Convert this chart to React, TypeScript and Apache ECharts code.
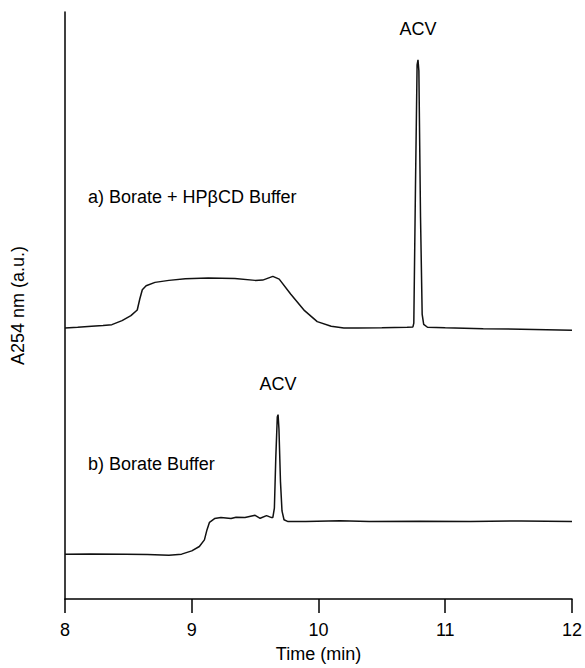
import React, { useEffect, useRef } from "react";
import * as echarts from "echarts";

// Time (min) tick values
const xTicks = [8, 9, 10, 11, 12];

// Trace a) Borate + HPβCD Buffer: time (min)
const timeA = [
  8.0, 8.1, 8.21, 8.3, 8.37, 8.45, 8.52, 8.57, 8.59, 8.61, 8.64, 8.71, 8.82, 8.95, 9.13, 9.34,
  9.5, 9.56, 9.64, 9.69, 9.78, 9.89, 9.99, 10.1, 10.2, 10.31, 10.5, 10.7, 10.745, 10.752,
  10.765, 10.778, 10.785, 10.792, 10.805, 10.818, 10.83, 10.86, 11.0, 11.3, 11.6, 12.0,
];
// Trace a) absorbance (a.u.)
const absA = [
  46.18, 46.3, 46.47, 46.6, 46.74, 47.42, 48.27, 49.24, 51.1, 52.68, 53.36, 53.94, 54.28, 54.55,
  54.67, 54.62, 54.28, 54.33, 54.96, 54.5, 51.95, 49.12, 47.25, 46.47, 46.18, 46.18, 46.2, 46.3,
  46.35, 47.0, 70.0, 91.0, 91.85, 90.0, 65.0, 48.5, 46.8, 46.3, 46.2, 46.05, 45.95, 45.8,
];

// Trace b) Borate Buffer: time (min)
const timeB = [
  8.0, 8.2, 8.48, 8.65, 8.82, 8.92, 9.0, 9.06, 9.1, 9.12, 9.14, 9.18, 9.23, 9.29, 9.31, 9.35,
  9.42, 9.5, 9.54, 9.59, 9.63, 9.64, 9.652, 9.663, 9.675, 9.681, 9.688, 9.7, 9.712, 9.728, 9.76,
  9.9, 10.17, 10.4, 10.8, 11.2, 11.6, 12.0,
];
// Trace b) absorbance (a.u.)
const absB = [
  7.64, 7.66, 7.64, 7.58, 7.47, 7.64, 8.2, 8.94, 10.07, 11.77, 13.07, 13.7, 13.87, 13.75, 13.7,
  13.92, 13.87, 14.26, 13.75, 14.21, 13.87, 13.9, 15.5, 24.0, 31.0, 31.41, 29.0, 20.0, 15.0, 13.5,
  13.19, 13.2, 13.35, 13.2, 13.25, 13.2, 13.3, 13.2,
];

// Peak annotations
const peakA: [number, number] = [10.785, 91.85];
const peakB: [number, number] = [9.681, 31.41];
const peakLabel = "ACV";
const labelA = "a) Borate + HPβCD Buffer";
const labelB = "b) Borate Buffer";

const FONT = "'Liberation Sans', Arial, Helvetica, sans-serif";

export default function App() {
  const ref = useRef<HTMLDivElement>(null);

  useEffect(() => {
    if (!ref.current) return;
    const chart = echarts.init(ref.current, null, { renderer: "svg" });
    const lineStyle = { color: "#111", width: 1.5 };
    const markLabel = {
      show: true,
      formatter: peakLabel,
      position: "top" as const,
      distance: 22,
      color: "#000",
      fontSize: 18,
      fontFamily: FONT,
    };
    chart.setOption({
      animation: false,
      backgroundColor: "#fff",
      grid: { left: 65, right: 9, top: 12, bottom: 67 },
      xAxis: {
        type: "value",
        min: xTicks[0],
        max: xTicks[xTicks.length - 1],
        interval: 1,
        name: "Time (min)",
        nameLocation: "middle",
        nameGap: 46,
        nameTextStyle: { color: "#000", fontSize: 18, fontFamily: FONT },
        axisLine: { show: true, onZero: false, lineStyle: { color: "#000", width: 1.5 } },
        axisTick: { show: true, inside: false, length: 14, lineStyle: { color: "#000", width: 1.5 } },
        axisLabel: { color: "#000", fontSize: 18, fontFamily: FONT, margin: 22 },
        splitLine: { show: false },
      },
      yAxis: {
        type: "value",
        min: 0,
        max: 100,
        name: "A254 nm (a.u.)",
        nameLocation: "middle",
        nameGap: 38,
        nameTextStyle: { color: "#000", fontSize: 18, fontFamily: FONT },
        axisLine: { show: true, onZero: false, lineStyle: { color: "#000", width: 1.5 } },
        axisTick: { show: false },
        axisLabel: { show: false },
        splitLine: { show: false },
      },
      graphic: [
        {
          type: "text",
          left: 88,
          top: 188,
          style: { text: labelA, fill: "#000", fontSize: 18, fontFamily: FONT },
        },
        {
          type: "text",
          left: 88,
          top: 455,
          style: { text: labelB, fill: "#000", fontSize: 18, fontFamily: FONT },
        },
      ],
      series: [
        {
          type: "line",
          data: timeA.map((t, i) => [t, absA[i]]),
          showSymbol: false,
          lineStyle,
          markPoint: {
            symbol: "circle",
            symbolSize: 0,
            label: markLabel,
            data: [{ coord: peakA }],
          },
        },
        {
          type: "line",
          data: timeB.map((t, i) => [t, absB[i]]),
          showSymbol: false,
          lineStyle,
          markPoint: {
            symbol: "circle",
            symbolSize: 0,
            label: markLabel,
            data: [{ coord: peakB }],
          },
        },
      ],
    });
    return () => chart.dispose();
  }, []);

  return (
    <div
      ref={ref}
      style={{ position: "fixed", left: 0, top: 0, width: 585, height: 668, overflow: "hidden" }}
    />
  );
}
